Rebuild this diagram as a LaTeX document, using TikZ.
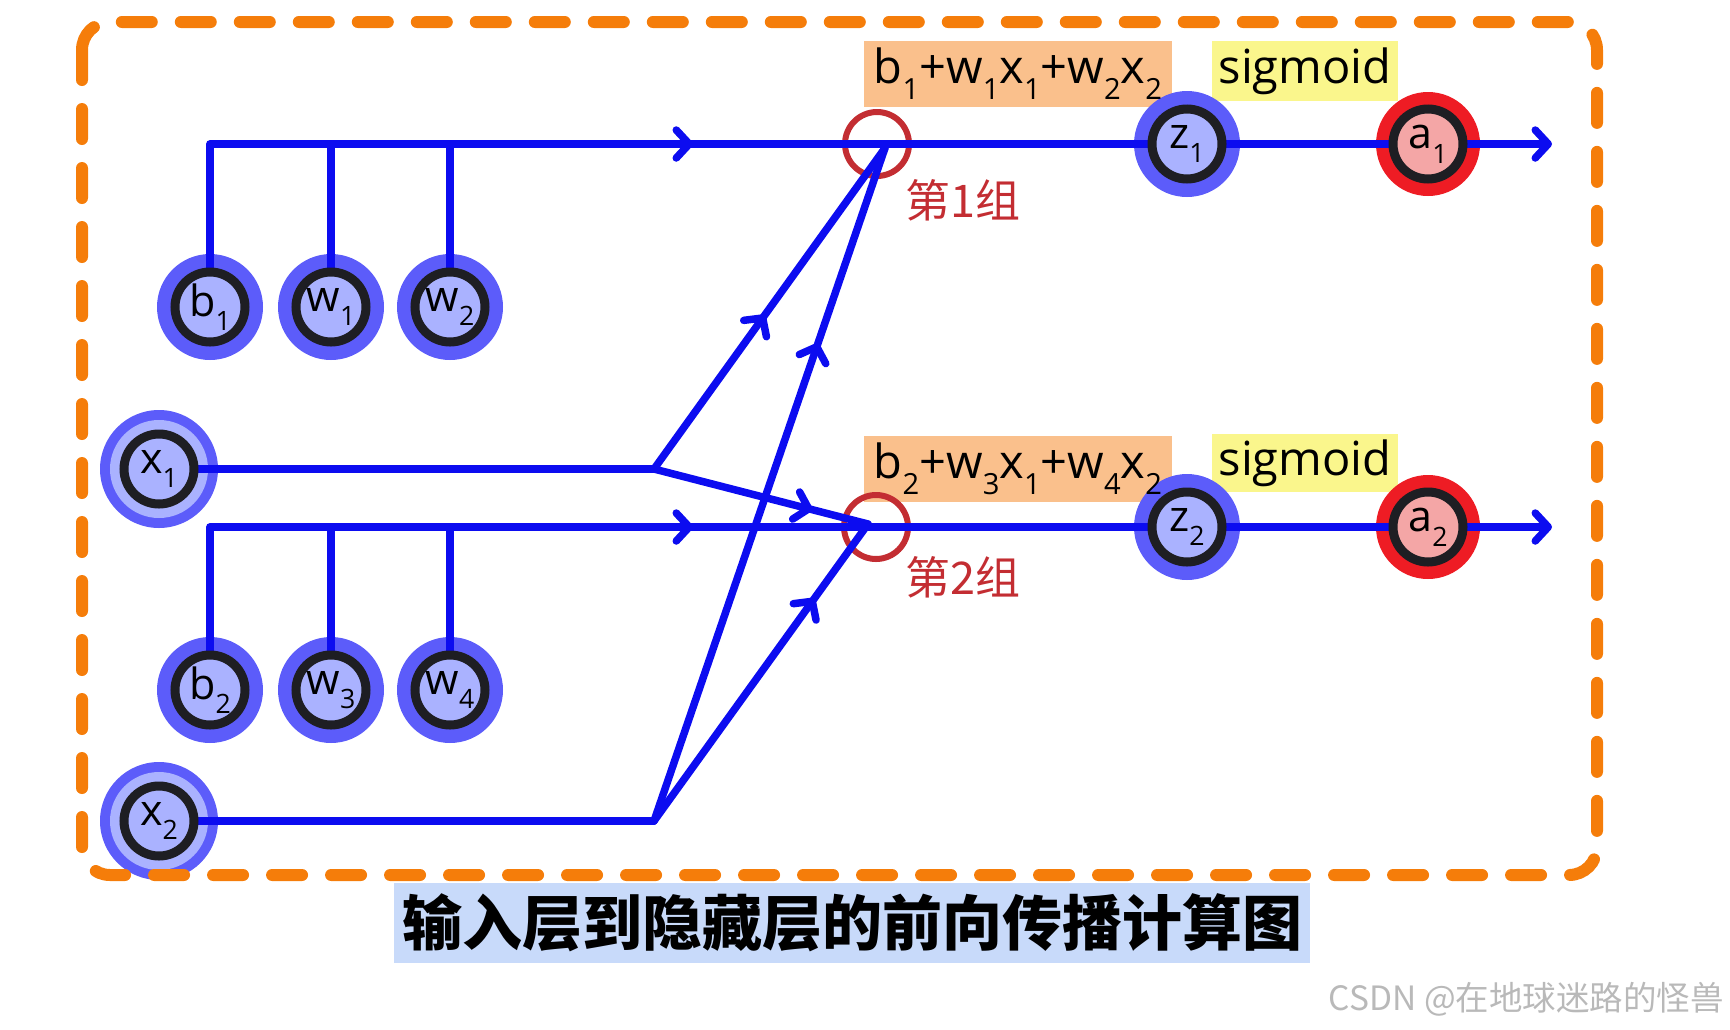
\documentclass[tikz,border=0pt]{standalone}
\usepackage{fontspec}
\usepackage{graphicx}
\setmainfont{Open Sans}
\newfontfamily\cjk{Noto Sans CJK SC}
\usetikzlibrary{arrows.meta,decorations.markings}
\pgfdeclarelayer{bg}\pgfdeclarelayer{fg}\pgfsetlayers{bg,main,fg}
\definecolor{lineblue}{RGB}{12,12,240}
\definecolor{outerblue}{RGB}{92,92,250}
\definecolor{lightblue}{RGB}{170,178,255}
\definecolor{ringblack}{RGB}{30,30,35}
\definecolor{outred}{RGB}{238,28,36}
\definecolor{lpink}{RGB}{244,166,166}
\definecolor{sumred}{RGB}{195,45,50}
\definecolor{borderorange}{RGB}{245,125,10}
\definecolor{labelorange}{RGB}{250,192,140}
\definecolor{labelyellow}{RGB}{250,246,140}
\definecolor{capblue}{RGB}{200,218,250}
\definecolor{wmgray}{RGB}{185,185,185}
\newcommand\lsub[1]{\raisebox{-0.34em}{\scalebox{0.62}{#1}}}
\begin{document}
\begin{tikzpicture}[x=1pt,y=-1pt,
  inn/.style={circle, draw=ringblack, line width=9pt, fill=lightblue, minimum size=70pt, inner sep=0pt, font=\fontsize{43}{43}\selectfont},
  ainn/.style={inn, fill=lpink},
  sumc/.style={circle, draw=sumred, line width=6pt, minimum size=64pt, inner sep=0pt},
  wire/.style={draw=lineblue, line width=7.5pt, line cap=round, line join=round},
  barb/.style={-{Straight Barb[length=13pt,width=28pt,round]}},
  midarrow/.style={postaction={decorate}, decoration={markings, mark=at position #1 with {\arrow{Straight Barb[length=13pt,width=28pt,round]}}}},
  formula/.style={font=\fontsize{47}{47}\selectfont, inner sep=0pt},
  grp/.style={anchor=west, text=sumred, font=\cjk\fontsize{45}{45}\selectfont},
  borderline/.style={draw=borderorange, line width=12pt, line cap=round, dash pattern=on 30pt off 29pt, rounded corners=28pt}
]
\useasboundingbox (0,0) rectangle (1730,1029);

\begin{pgfonlayer}{fg}
  \node[inn] (b1) at (210,307) {b\lsub1};
  \node[inn] (w1) at (331,307) {w\lsub1};
  \node[inn] (w2) at (450,307) {w\lsub2};
  \node[inn] (b2) at (210,690) {b\lsub2};
  \node[inn] (w3) at (331,690) {w\lsub3};
  \node[inn] (w4) at (450,690) {w\lsub4};
  \node[inn] (x1) at (159,469) {x\lsub1};
  \node[inn] (x2) at (159,821) {x\lsub2};
  \node[inn] (z1) at (1187,144) {z\lsub1};
  \node[ainn] (a1) at (1428,144) {a\lsub1};
  \node[inn] (z2) at (1187,527) {z\lsub2};
  \node[ainn] (a2) at (1428,527) {a\lsub2};
  \node[formula, minimum width=308pt, minimum height=65pt] (f1) at (1018,74) {b\lsub1+w\lsub1x\lsub1+w\lsub2x\lsub2};
  \node[formula, minimum width=308pt, minimum height=65pt] (f2) at (1018,469) {b\lsub2+w\lsub3x\lsub1+w\lsub4x\lsub2};
  \node[formula, minimum width=185pt, minimum height=59pt] (sg1) at (1305,71) {sigmoid};
  \node[formula, minimum width=185pt, minimum height=57pt] (sg2) at (1305,463) {sigmoid};
  \node[grp] (g1) at (902,200) {第1组};
  \node[grp] (g2) at (902,577) {第2组};
  \node[fill=capblue, minimum width=916pt, minimum height=80pt, inner sep=0pt, font=\cjk\bfseries\fontsize{60}{60}\selectfont] (cap) at (852,923) {输入层到隐藏层的前向传播计算图};
  \node[anchor=east, text=wmgray, inner sep=0pt, font=\cjk\fontsize{33.5}{33.5}\selectfont] (wm) at (1724,999) {CSDN @在地球迷路的怪兽};
\end{pgfonlayer}

\begin{pgfonlayer}{bg}
  \fill[labelorange] (f1.south west) rectangle (f1.north east);
  \fill[labelorange] (f2.south west) rectangle (f2.north east);
  \fill[labelyellow] (sg1.south west) rectangle (sg1.north east);
  \fill[labelyellow] (sg2.south west) rectangle (sg2.north east);
  \foreach \n in {b1,w1,w2,b2,w3,w4,z1,z2} { \fill[outerblue] (\n.center) circle (53pt); }
  \foreach \n in {x1,x2} { \fill[outerblue] (\n.center) circle (59pt); \fill[lightblue] (\n.center) circle (49pt); }
  \foreach \n in {a1,a2} { \fill[outred] (\n.center) circle (52pt); }
  \node[sumc] (s1) at (877,144) {};
  \node[sumc] (s2) at (876,527) {};
\end{pgfonlayer}

\coordinate (j1) at (654,469);
\coordinate (j2) at (654,821);
\coordinate (c1) at (885,148);
\coordinate (c2) at (868,524);
\coordinate (o1) at (1552,144);
\coordinate (o2) at (1552,527);

\draw[wire, midarrow=-184pt] (b1) |- (s1.center);
\draw[wire] (w1) -- (w1 |- s1.center);
\draw[wire] (w2) -- (w2 |- s1.center);
\draw[wire] (s1.center) -- (z1) -- (a1);
\draw[wire, barb] (a1) -- (o1);

\draw[wire, midarrow=-183pt] (b2) |- (s2.center);
\draw[wire] (w3) -- (w3 |- s2.center);
\draw[wire] (w4) -- (w4 |- s2.center);
\draw[wire] (s2.center) -- (z2) -- (a2);
\draw[wire, barb] (a2) -- (o2);

\draw[wire] (x1) -- (j1);
\draw[wire] (x2) -- (j2);
\draw[wire, midarrow=0.48] (j1) -- (c1);
\draw[wire, midarrow=0.71] (j2) -- (c1);
\draw[wire, midarrow=0.74] (j1) -- (c2);
\draw[wire, midarrow=0.75] (j2) -- (c2);

\draw[borderline] (82,22) rectangle (1597,875);
\end{tikzpicture}
\end{document}
